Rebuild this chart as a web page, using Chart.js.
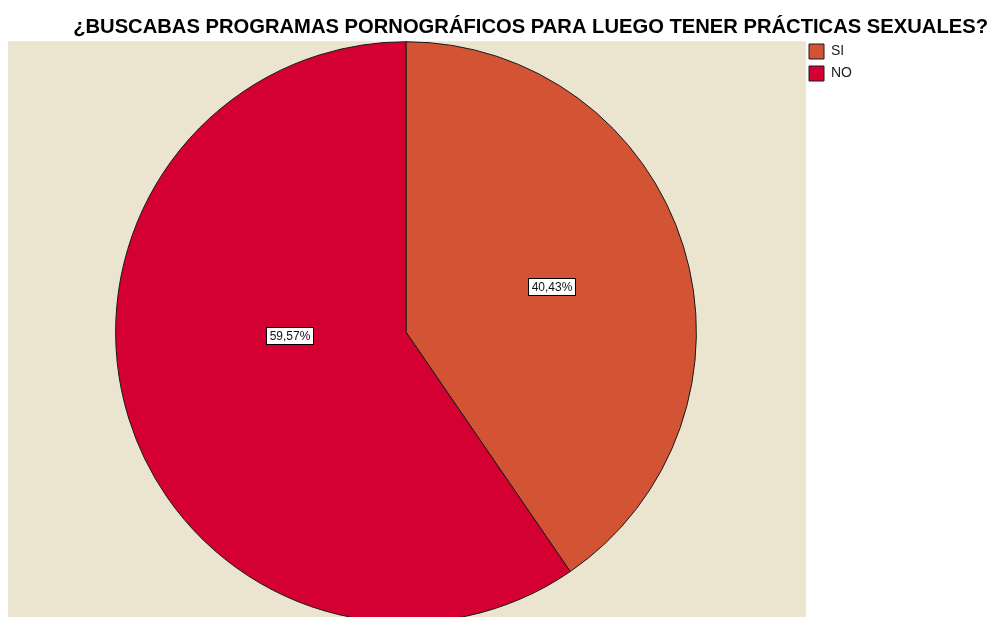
<!DOCTYPE html>
<html>
<head>
<meta charset="utf-8">
<script src="https://cdn.jsdelivr.net/npm/chart.js@4/dist/chart.umd.min.js"></script>
<style>
  html, body { margin: 0; padding: 0; background: #fff; overflow: hidden; }
  #wrap { width: 1000px; height: 617px; overflow: hidden; }
</style>
</head>
<body>
<div id="wrap"><canvas id="myPieChart" width="1000" height="623"></canvas></div>
<script>
const titleText = "¿BUSCABAS PROGRAMAS PORNOGRÁFICOS PARA LUEGO TENER PRÁCTICAS SEXUALES?";
const categories = ["SI", "NO"];
const percentages = [40.43, 59.57];
const sliceColors = ["#D25434", "#D50032"];

// where the value boxes sit: share of the radius and turn away from the slice middle (deg)
const labelRadius = [0.525, 0.40];
const labelTurn = [0, 15.8];

// beige panel reaches a little past the pie's area on both sides
const plotBackground = {
  id: "plotBackground",
  beforeDraw(chart) {
    const { ctx, chartArea } = chart;
    ctx.save();
    ctx.fillStyle = "#EBE4CF";
    ctx.fillRect(chartArea.left - 2, chartArea.top, chartArea.right - chartArea.left + 6, chart.height - chartArea.top);
    ctx.restore();
  },
};

// make the legend column wide enough so the plot ends where the reference does
const legendWidth = {
  id: "legendWidth",
  afterInit(chart) {
    const legend = chart.legend;
    const fit = legend.fit;
    legend.fit = function () {
      fit.call(this);
      this.width = 186;
    };
  },
};

const valueBoxes = {
  id: "valueBoxes",
  afterDatasetsDraw(chart) {
    const { ctx } = chart;
    const arcs = chart.getDatasetMeta(0).data;
    ctx.save();
    ctx.font = "12px 'Liberation Sans', Arial, sans-serif";
    ctx.textAlign = "center";
    ctx.textBaseline = "middle";
    arcs.forEach((arc, i) => {
      const p = arc.getProps(["x", "y", "startAngle", "endAngle", "outerRadius"], true);
      const mid = (p.startAngle + p.endAngle) / 2 + (labelTurn[i] * Math.PI) / 180;
      const r = p.outerRadius * labelRadius[i];
      const x = p.x + Math.cos(mid) * r;
      const y = p.y + Math.sin(mid) * r;
      const text = percentages[i].toFixed(2).replace(".", ",") + "%";
      const w = Math.round(ctx.measureText(text).width + 6);
      const h = 17;
      const bx = Math.round(x - w / 2) + 0.5;
      const by = Math.round(y - h / 2) + 0.5;
      ctx.fillStyle = "#fff";
      ctx.fillRect(bx, by, w, h);
      ctx.strokeStyle = "#000";
      ctx.lineWidth = 1;
      ctx.strokeRect(bx, by, w, h);
      ctx.fillStyle = "#111";
      ctx.fillText(text, bx + w / 2, by + h / 2 + 1);
    });
    ctx.restore();
  },
};

const data = {
  labels: categories,
  datasets: [
    {
      data: percentages,
      backgroundColor: sliceColors,
      borderColor: "#1a1a1a",
      borderWidth: 1,
    },
  ],
};

const config = {
  type: "pie",
  data: data,
  options: {
    responsive: false,
    animation: false,
    devicePixelRatio: 1,
    layout: {
      padding: { left: 10, right: 12, top: 0, bottom: 0 },
    },
    plugins: {
      tooltip: { enabled: false },
      title: {
        display: true,
        text: titleText,
        align: "end",
        color: "#000",
        font: { family: "'Liberation Sans', Arial, sans-serif", size: 20.2, weight: "bold" },
        padding: { top: 15, bottom: 2 },
      },
      legend: {
        position: "right",
        align: "start",
        title: {
          display: true,
          text: "",
          font: { size: 1, lineHeight: 1 },
          padding: { top: 36, bottom: 0 },
        },
        labels: {
          boxWidth: 15,
          boxHeight: 15,
          padding: 7,
          color: "#222",
          font: { family: "'Liberation Sans', Arial, sans-serif", size: 14 },
        },
      },
    },
  },
  plugins: [plotBackground, legendWidth, valueBoxes],
};

const ctx = document.getElementById("myPieChart").getContext("2d");
new Chart(ctx, config);
</script>
</body>
</html>
